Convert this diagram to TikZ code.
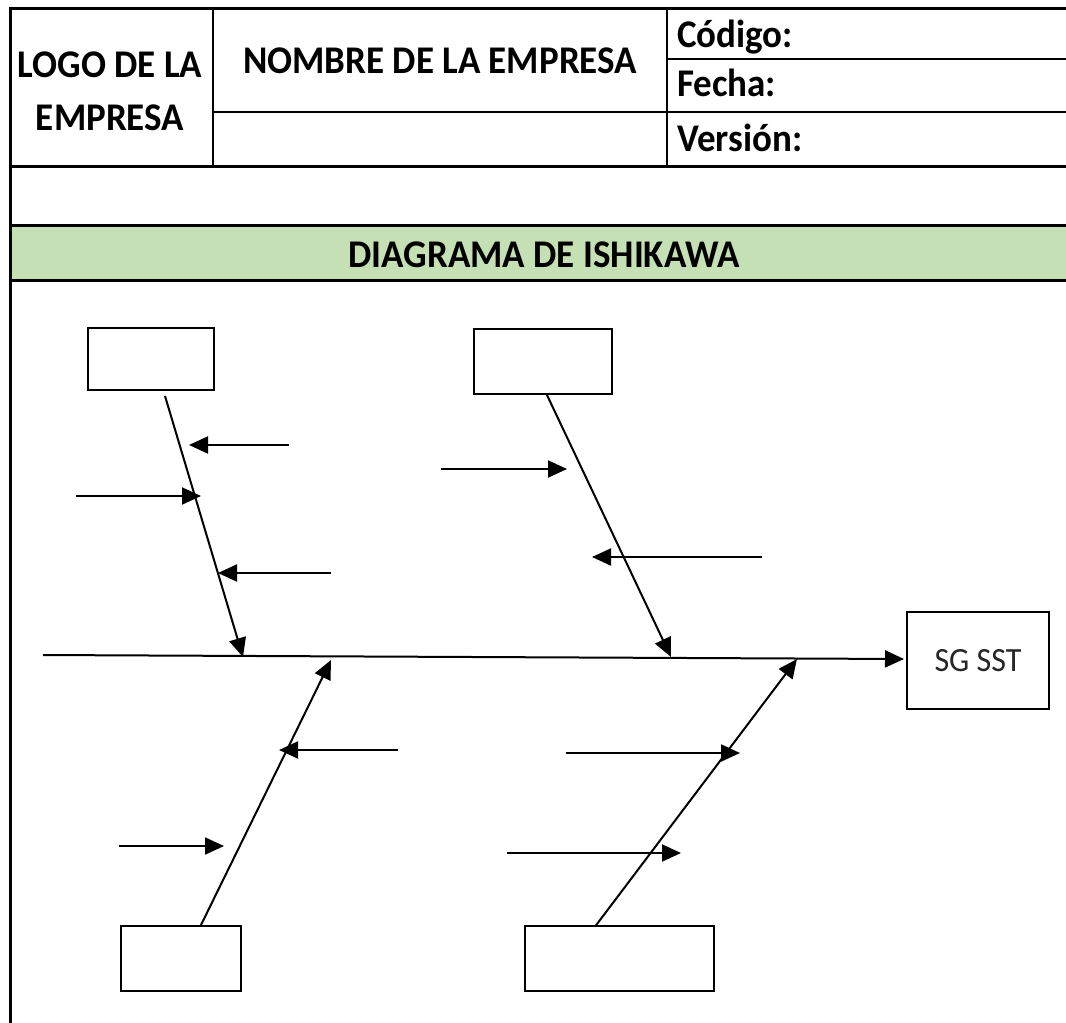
\documentclass[tikz,border=0pt]{standalone}
\usepackage{fontspec}
\setmainfont{Carlito}
\usetikzlibrary{arrows.meta}
\definecolor{bandgreen}{HTML}{C5E0B4}
\newcommand{\tallt}[1]{\scalebox{1}[1.06]{#1}}
\begin{document}
\begin{tikzpicture}[x=1pt,y=-1pt,
  gridline/.style={line width=1.6pt},
  heavyrule/.style={line width=3pt},
  hdr/.style={font=\fontsize{37}{44}\selectfont\bfseries, inner sep=0pt},
  causebox/.style={draw, line width=1.9pt, inner sep=0pt},
  bone/.style={line width=2pt, -{Triangle[length=19pt,width=17pt]}},
  ]
\useasboundingbox (0,0) rectangle (1066,1023);
\fill[white] (0,0) rectangle (1066,1023);
\fill[bandgreen] (10,225) rectangle (1066,280);
% header grid
\draw[heavyrule] (10,8) -- (1066,8);
\draw[heavyrule] (10,6.5) -- (10,1023);
\draw[gridline] (213,8) -- (213,166);
\draw[gridline] (667,8) -- (667,166);
\draw[gridline] (667,59) -- (1066,59);
\draw[gridline] (213,112) -- (1066,112);
\draw[heavyrule] (10,166) -- (1066,166);
\draw[heavyrule] (10,225) -- (1066,225);
\draw[heavyrule] (10,280) -- (1066,280);
% header texts
\node[hdr, anchor=base] (logo1) at (110,77) {\tallt{LOGO DE LA}};
\node[hdr, anchor=base] (logo2) at (110,130) {\tallt{EMPRESA}};
\node[hdr, anchor=base] (nombre) at (440,73) {\tallt{NOMBRE DE LA EMPRESA}};
\node[hdr, anchor=base west] (codigo) at (677,47) {\tallt{Código:}};
\node[hdr, anchor=base west] (fecha) at (677,96) {\tallt{Fecha:}};
\node[hdr, anchor=base west] (version) at (677,151) {\tallt{Versión:}};
\node[hdr, anchor=base] (titulo) at (544,267) {\tallt{DIAGRAMA DE ISHIKAWA}};
% cause boxes
\node[causebox, minimum width=126pt, minimum height=62pt] (tl) at (151,359) {};
\node[causebox, minimum width=138pt, minimum height=65pt] (tm) at (543,361.5) {};
\node[causebox, minimum width=120pt, minimum height=65pt] (bl) at (181,958.5) {};
\node[causebox, minimum width=189pt, minimum height=65pt] (br) at (619.5,958.5) {};
\node[causebox, minimum width=142pt, minimum height=97pt, font=\fontsize{32}{36}\selectfont, text=black!85] (sg) at (978,660.5) {\tallt{SG SST}};
% spine coordinates
\coordinate (mainstart) at (43,655);
\coordinate (mainend) at (904,659);
\coordinate (tls) at (165,396);
\coordinate (tle) at (243,657);
\coordinate (tms) at (546.5,394);
\coordinate (tme) at (671,657);
\coordinate (bls) at (200.5,926);
\coordinate (ble) at (331,660);
\coordinate (brs) at (595.5,926);
\coordinate (bre) at (797,659);
% main spine and bones
\draw[bone] (mainstart) -- (mainend);
\draw[bone] (tls) -- (tle);
\draw[bone] (tms) -- (tme);
\draw[bone] (bls) -- (ble);
\draw[bone] (brs) -- (bre);
% sub-cause arrows
\coordinate (a1s) at (288.5,445); \coordinate (a1e) at (189,445);
\coordinate (a2s) at (76,496);    \coordinate (a2e) at (201,496);
\coordinate (a3s) at (331,573);   \coordinate (a3e) at (218,573);
\coordinate (a4s) at (441,469);   \coordinate (a4e) at (567,469);
\coordinate (a5s) at (762,557);   \coordinate (a5e) at (592,557);
\coordinate (a6s) at (398,750);   \coordinate (a6e) at (279,750);
\coordinate (a7s) at (119,846);   \coordinate (a7e) at (224,846);
\coordinate (a8s) at (566,753);   \coordinate (a8e) at (740,753);
\coordinate (a9s) at (507,853);   \coordinate (a9e) at (681,853);
\draw[bone] (a1s) -- (a1e);
\draw[bone] (a2s) -- (a2e);
\draw[bone] (a3s) -- (a3e);
\draw[bone] (a4s) -- (a4e);
\draw[bone] (a5s) -- (a5e);
\draw[bone] (a6s) -- (a6e);
\draw[bone] (a7s) -- (a7e);
\draw[bone] (a8s) -- (a8e);
\draw[bone] (a9s) -- (a9e);
\end{tikzpicture}
\end{document}
